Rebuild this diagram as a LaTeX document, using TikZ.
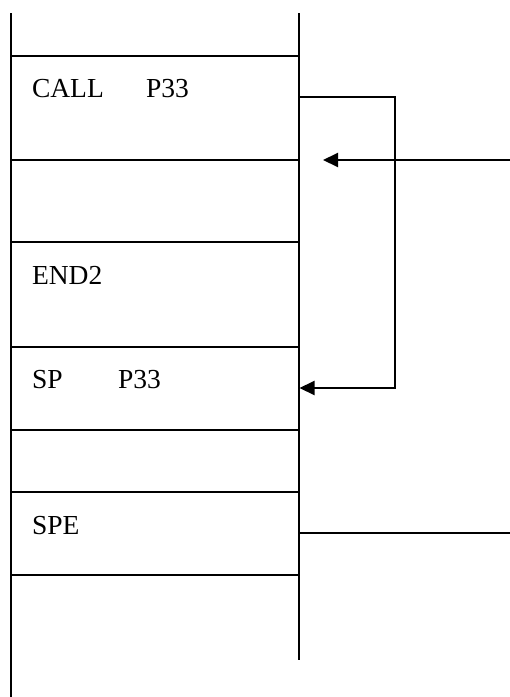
\documentclass[tikz,border=0pt]{standalone}
\usepackage{fontspec}
\setmainfont{Liberation Serif}
\usetikzlibrary{arrows.meta}
\begin{document}
\begin{tikzpicture}[x=1pt,y=-1pt,line width=2pt,
  lbl/.style={anchor=base west,inner sep=0pt,font=\fontsize{27.5}{32}\selectfont},
  tipped/.style={-{Triangle[length=15pt,width=14pt]}}]
\useasboundingbox (0,0) rectangle (510,697);
% stack frame
\coordinate (LT) at (11,13);
\coordinate (LB) at (11,697);
\coordinate (RT) at (298.5,13);
\coordinate (RB) at (298.5,660);
\draw (LT) -- (LB);
\draw (RT) -- (RB);
\foreach \yy in {56,160,242,347,430,492,575}
  \draw (11,\yy) -- (298.5,\yy);
% texts
\node[lbl] (call)  at (31,97)  {CALL};
\node[lbl] (callp) at (145,97) {P33};
\node[lbl] (end2)  at (31,284) {END2};
\node[lbl] (sp)    at (31,388) {SP};
\node[lbl] (spp)   at (117,388) {P33};
\node[lbl] (spe)   at (31,534) {SPE};
% connectors
\coordinate (callout) at (299.5,97);
\coordinate (bend)    at (395,388);
\coordinate (spin)    at (299.5,388);
\draw[tipped] (callout) -| (bend) -- (spin);
\coordinate (ext1) at (512,160);
\coordinate (ret)  at (323,160);
\draw[tipped] (ext1) -- (ret);
\coordinate (speout) at (299.5,533);
\coordinate (ext2)   at (512,533);
\draw (speout) -- (ext2);
\end{tikzpicture}
\end{document}
